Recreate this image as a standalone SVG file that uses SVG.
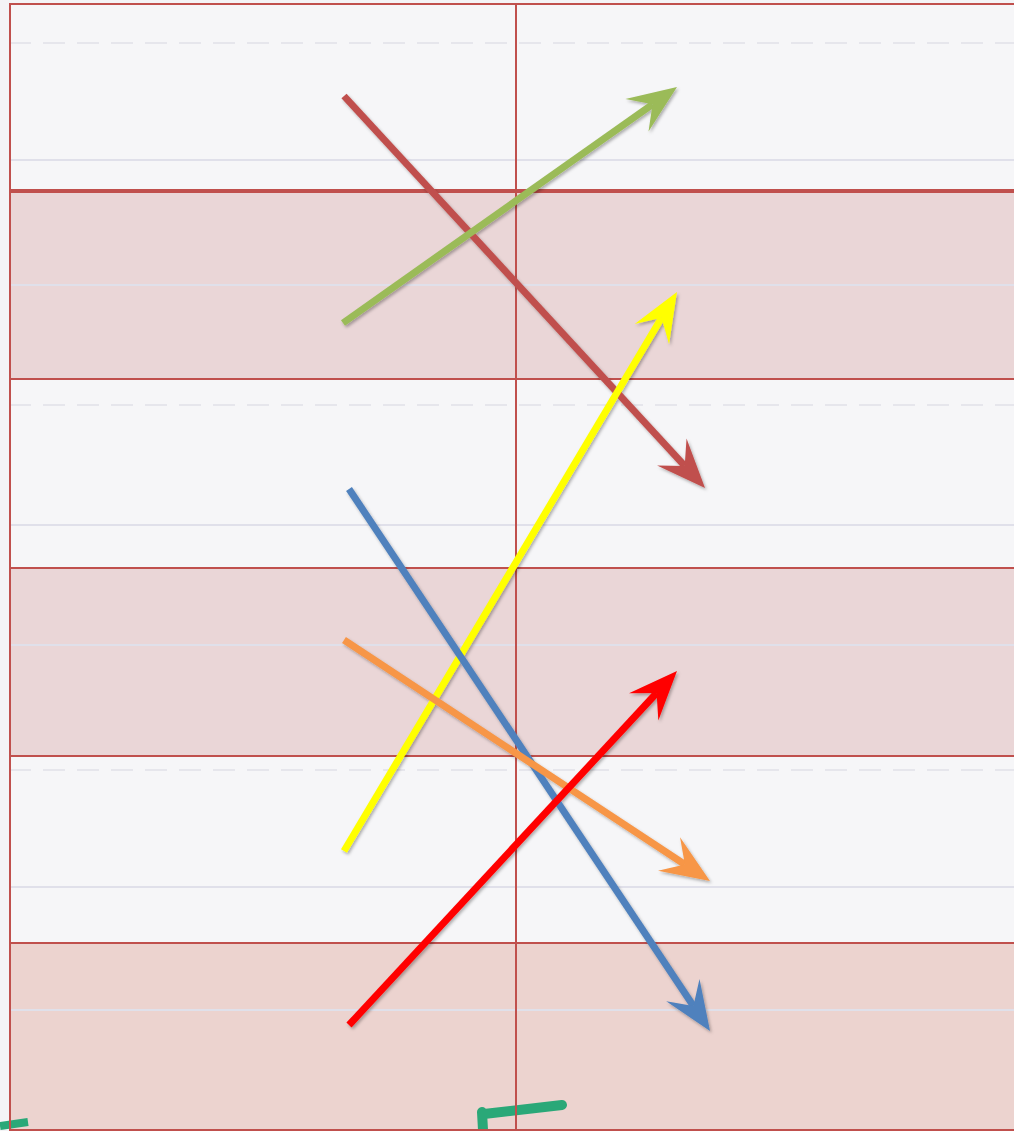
<svg xmlns="http://www.w3.org/2000/svg" width="1014" height="1131" viewBox="0 0 1014 1131">
<style>
.rowW{fill:#f6f6f8}
.rowP{fill:#ead6d7}
.grid{stroke:#c0504d;stroke-width:2;fill:none}
.faint{stroke:#e0e0ea;stroke-width:2;fill:none}
.dash{stroke:#e6e6ec;stroke-width:2;stroke-dasharray:22 12;fill:none}
.arr{stroke-width:7;fill:none;stroke-linecap:butt}
</style>
<defs>
<filter id="sh" x="-10%" y="-10%" width="120%" height="120%">
<feDropShadow dx="1.5" dy="2" stdDeviation="1.5" flood-color="#000" flood-opacity="0.3"/>
</filter>
<marker id="mBrown" markerUnits="userSpaceOnUse" orient="auto" refX="0" refY="0" markerWidth="60" markerHeight="60" overflow="visible"><path d="M30,0 L-19,-20 L0,0 L-19,20 Z" fill="#c0504d"/></marker>
<marker id="mGreen" markerUnits="userSpaceOnUse" orient="auto" refX="0" refY="0" markerWidth="60" markerHeight="60" overflow="visible"><path d="M30,0 L-19,-20 L0,0 L-19,20 Z" fill="#9bbb59"/></marker>
<marker id="mYellow" markerUnits="userSpaceOnUse" orient="auto" refX="0" refY="0" markerWidth="60" markerHeight="60" overflow="visible"><path d="M30,0 L-19,-20 L0,0 L-19,20 Z" fill="#ffff00"/></marker>
<marker id="mBlue" markerUnits="userSpaceOnUse" orient="auto" refX="0" refY="0" markerWidth="60" markerHeight="60" overflow="visible"><path d="M30,0 L-19,-20 L0,0 L-19,20 Z" fill="#4f81bd"/></marker>
<marker id="mOrange" markerUnits="userSpaceOnUse" orient="auto" refX="0" refY="0" markerWidth="60" markerHeight="60" overflow="visible"><path d="M30,0 L-19,-20 L0,0 L-19,20 Z" fill="#f79646"/></marker>
<marker id="mRed" markerUnits="userSpaceOnUse" orient="auto" refX="0" refY="0" markerWidth="60" markerHeight="60" overflow="visible"><path d="M30,0 L-19,-20 L0,0 L-19,20 Z" fill="#ff0000"/></marker>
</defs>
<rect x="0" y="0" width="1014" height="1131" fill="#f4f4f6"/>
<g id="table">
<rect class="rowW" x="9" y="4" width="1005" height="187"/>
<rect class="rowP" x="9" y="191" width="1005" height="188"/>
<rect class="rowW" x="9" y="379" width="1005" height="189"/>
<rect class="rowP" x="9" y="568" width="1005" height="188"/>
<rect class="rowW" x="9" y="756" width="1005" height="187"/>
<rect x="9" y="943" width="1005" height="188" fill="#ecd3cf"/>
<path class="dash" d="M9,43 H1014 M9,405 H1014 M9,770 H1014"/>
<path class="faint" d="M9,160 H1014 M9,285 H1014 M9,525 H1014 M9,645 H1014 M9,887 H1014 M9,1010 H1014"/>
<path d="M482,1112 L483,1130 M484,1114 Q520,1110 562,1105" stroke="#2aa878" stroke-width="10" fill="none" stroke-linecap="round"/>
<path d="M0,1126 L28,1122" stroke="#2aa878" stroke-width="8" fill="none"/>
<path class="grid" d="M9,4 H1014 M10,4 V1131 M516,4 V1131 M9,379 H1014 M9,568 H1014 M9,756 H1014 M9,943 H1014 M9,1130 H1014"/>
<path d="M9,191 H1014" stroke="#c0504d" stroke-width="4"/>
</g>
<g id="connectors" filter="url(#sh)">
<line id="brown" class="arr" x1="344" y1="96" x2="684.7" y2="465.9" stroke="#c0504d" marker-end="url(#mBrown)"/>
<line id="green" class="arr" x1="343" y1="323" x2="652.5" y2="104.3" stroke="#9bbb59" marker-end="url(#mGreen)"/>
<line id="yellow" class="arr" x1="344" y1="851" x2="661.6" y2="317.8" stroke="#ffff00" marker-end="url(#mYellow)"/>
<line id="blue" class="arr" x1="349" y1="489" x2="693.4" y2="1006" stroke="#4f81bd" marker-end="url(#mBlue)"/>
<line id="orange" class="arr" x1="344" y1="640" x2="684.9" y2="864.5" stroke="#f79646" marker-end="url(#mOrange)"/>
<line id="red" class="arr" x1="349" y1="1025" x2="656.6" y2="693" stroke="#ff0000" marker-end="url(#mRed)"/>
</g>
</svg>
